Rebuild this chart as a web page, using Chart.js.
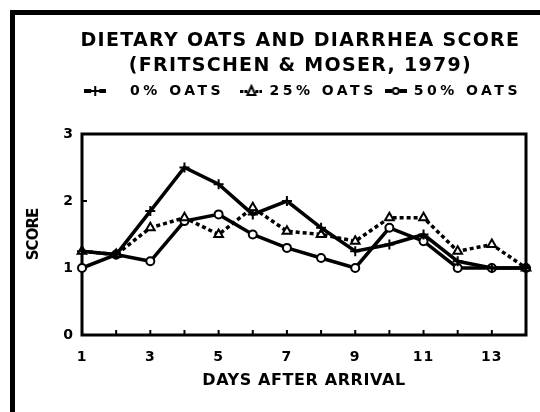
<!DOCTYPE html>
<html>
<head>
<meta charset="utf-8">
<script src="https://cdn.jsdelivr.net/npm/chart.js@4/dist/chart.umd.min.js"></script>
<style>
  body { margin: 0; background: #fff; }
  #wrap { position: relative; width: 540px; height: 412px; overflow: hidden; }
  #frame { position: absolute; left: 10px; top: 10px; width: 530px; height: 402px;
           border-top: 5px solid #000; border-left: 5px solid #000; }
  #myChart { position: absolute; left: 0; top: 0; }
</style>
</head>
<body>
<div id="wrap">
  <div id="frame"></div>
  <canvas id="myChart" width="540" height="412"></canvas>
</div>
<script>
// data
var days = [1, 2, 3, 4, 5, 6, 7, 8, 9, 10, 11, 12, 13, 14];
var oats0 = [1.25, 1.2, 1.85, 2.5, 2.25, 1.8, 2.0, 1.6, 1.25, 1.35, 1.5, 1.1, 1.0, 1.0];
var oats25 = [1.25, 1.2, 1.6, 1.75, 1.5, 1.9, 1.55, 1.5, 1.4, 1.75, 1.75, 1.25, 1.35, 1.0];
var oats50 = [1.0, 1.2, 1.1, 1.7, 1.8, 1.5, 1.3, 1.15, 1.0, 1.6, 1.4, 1.0, 1.0, 1.0];
var seriesNames = ["0% OATS", "25% OATS", "50% OATS"];
var xTickLabels = ["1", "3", "5", "7", "9", "11", "13"];
var yTickLabels = ["0", "1", "2", "3"];

var fontFamily = "'DejaVu Sans', sans-serif";

// little legend symbols: line piece with marker in the middle
function legendSymbol(kind) {
    var c = document.createElement('canvas');
    c.width = 22; c.height = 14;
    var g = c.getContext('2d');
    g.strokeStyle = '#000';
    g.fillStyle = '#000';
    if (kind === 'dash') {
        g.fillRect(0, 6, 3, 3); g.fillRect(4, 6, 3, 3);
        g.fillRect(15, 6, 3, 3); g.fillRect(19, 6, 3, 3);
    } else {
        g.fillRect(0, 5, 7, 4);
        g.fillRect(15, 5, 7, 4);
    }
    g.lineWidth = 2;
    g.beginPath();
    if (kind === 'cross') {
        g.moveTo(11, 2); g.lineTo(11, 12);
        g.moveTo(6, 7); g.lineTo(16, 7);
    } else if (kind === 'dash') {
        g.moveTo(11, 2); g.lineTo(15, 11); g.lineTo(7, 11); g.closePath();
    } else {
        g.arc(11, 7, 3, 0, Math.PI * 2);
    }
    g.stroke();
    return c;
}
var symbols = [legendSymbol('cross'), legendSymbol('dash'), legendSymbol('circle')];
var legendText = ["  0% OATS ", "25% OATS", "50% OATS"];

// wrap a draw/fit method so its text gets wider letter spacing
function withSpacing(obj, name, ls) {
    if (!obj || obj['_ls_' + name]) return;
    var orig = obj[name];
    obj[name] = function () {
        var ctx = this.ctx, prev = ctx.letterSpacing;
        ctx.letterSpacing = ls;
        try { return orig.apply(this, arguments); }
        finally { ctx.letterSpacing = prev; }
    };
    obj['_ls_' + name] = true;
}

const boxAndTicks = {
    id: 'boxAndTicks',
    beforeLayout(chart) {
        var lg = chart.legend;
        if (lg && !lg._patched) {
            var fit = lg.fit;
            lg.fit = function () { fit.call(this); this.height = 58; };
            lg._patched = true;
        }
        withSpacing(lg, 'fit', '3.5px');
        withSpacing(lg, 'draw', '3.5px');
        withSpacing(chart.titleBlock, 'draw', '1.3px');
        withSpacing(chart.scales.x, 'drawTitle', '0.6px');
        withSpacing(chart.scales.x, 'drawLabels', '1px');
        withSpacing(chart.scales.y, 'drawTitle', '-1px');
    },
    beforeDatasetsDraw(chart) {
        var ctx = chart.ctx, a = chart.chartArea, x = chart.scales.x, y = chart.scales.y;
        ctx.save();
        ctx.strokeStyle = '#000';
        ctx.lineWidth = 3;
        ctx.strokeRect(a.left, a.top, a.right - a.left, a.bottom - a.top);
        ctx.lineWidth = 2;
        ctx.beginPath();
        x.ticks.forEach(function (t) {
            var px = x.getPixelForValue(t.value);
            if (px > a.left + 2 && px < a.right - 2) {
                ctx.moveTo(px, a.bottom); ctx.lineTo(px, a.bottom - 5);
            }
        });
        y.ticks.forEach(function (t) {
            var py = y.getPixelForValue(t.value);
            if (py > a.top + 2 && py < a.bottom - 2) {
                ctx.moveTo(a.left, py); ctx.lineTo(a.left + 5, py);
            }
        });
        ctx.stroke();
        ctx.restore();
    }
};

function series(vals) {
    return days.map(function (d, i) { return { x: d, y: vals[i] }; });
}

new Chart("myChart", {
    type: "line",
    data: {
        datasets: [{
            label: seriesNames[0],
            data: series(oats0),
            borderColor: '#000',
            borderWidth: 3.5,
            pointStyle: 'cross',
            pointRadius: 5,
            pointBorderWidth: 2,
            pointBorderColor: '#000',
            clip: false
        }, {
            label: seriesNames[1],
            data: series(oats25),
            borderColor: '#000',
            borderWidth: 3.5,
            borderDash: [4, 3],
            pointStyle: 'triangle',
            pointRadius: 5,
            pointBorderWidth: 2,
            pointBackgroundColor: '#fff',
            pointBorderColor: '#000',
            clip: false
        }, {
            label: seriesNames[2],
            data: series(oats50),
            borderColor: '#000',
            borderWidth: 3.5,
            pointStyle: 'circle',
            pointRadius: 4,
            pointBorderWidth: 2,
            pointBackgroundColor: '#fff',
            pointBorderColor: '#000',
            clip: false
        }]
    },
    plugins: [boxAndTicks],
    options: {
        responsive: false,
        animation: false,
        devicePixelRatio: 1,
        layout: { padding: { left: 56, right: 11, top: 0, bottom: 21 } },
        plugins: {
            title: {
                display: true,
                text: ["  DIETARY OATS AND DIARRHEA SCORE", "  (FRITSCHEN & MOSER, 1979)"],
                color: '#000',
                font: { family: fontFamily, size: 19, weight: 'bold', lineHeight: 24.5 / 19 },
                padding: { top: 29, bottom: -2 }
            },
            legend: {
                display: true,
                align: 'end',
                labels: {
                    color: '#000',
                    font: { family: fontFamily, size: 14, weight: 'bold' },
                    usePointStyle: true,
                    pointStyleWidth: 22,
                    padding: 8,
                    generateLabels: function (chart) {
                        var items = Chart.defaults.plugins.legend.labels.generateLabels(chart);
                        items.forEach(function (it, i) {
                            it.pointStyle = symbols[i];
                            it.text = legendText[i];
                        });
                        return items;
                    }
                }
            },
            tooltip: { enabled: false }
        },
        scales: {
            x: {
                type: 'linear',
                min: 1,
                max: 14,
                grid: { display: false, drawTicks: false },
                border: { display: false },
                afterFit: function (s) { s.height = 56; },
                ticks: {
                    stepSize: 1,
                    autoSkip: false,
                    maxRotation: 0,
                    padding: 14,
                    color: '#000',
                    font: { family: fontFamily, size: 14, weight: 'bold' },
                    callback: function (v) {
                        var s = String(v);
                        return xTickLabels.indexOf(s) >= 0 ? s : '';
                    }
                },
                title: {
                    display: true,
                    text: "DAYS AFTER ARRIVAL",
                    color: '#000',
                    font: { family: fontFamily, size: 16, weight: 'bold' },
                    padding: { top: 0, bottom: 1 }
                }
            },
            y: {
                min: 0,
                max: 3,
                grid: { display: false, drawTicks: false },
                border: { display: false },
                afterFit: function (s) { s.width = 26; },
                ticks: {
                    stepSize: 1,
                    padding: 9,
                    color: '#000',
                    font: { family: fontFamily, size: 14, weight: 'bold' },
                    callback: function (v) {
                        var s = String(v);
                        return yTickLabels.indexOf(s) >= 0 ? s : '';
                    }
                },
                title: {
                    display: true,
                    text: "SCORE",
                    color: '#000',
                    font: { family: fontFamily, size: 15, weight: 'bold' },
                    padding: { top: -31, bottom: 0 }
                }
            }
        }
    }
});
</script>
</body>
</html>
